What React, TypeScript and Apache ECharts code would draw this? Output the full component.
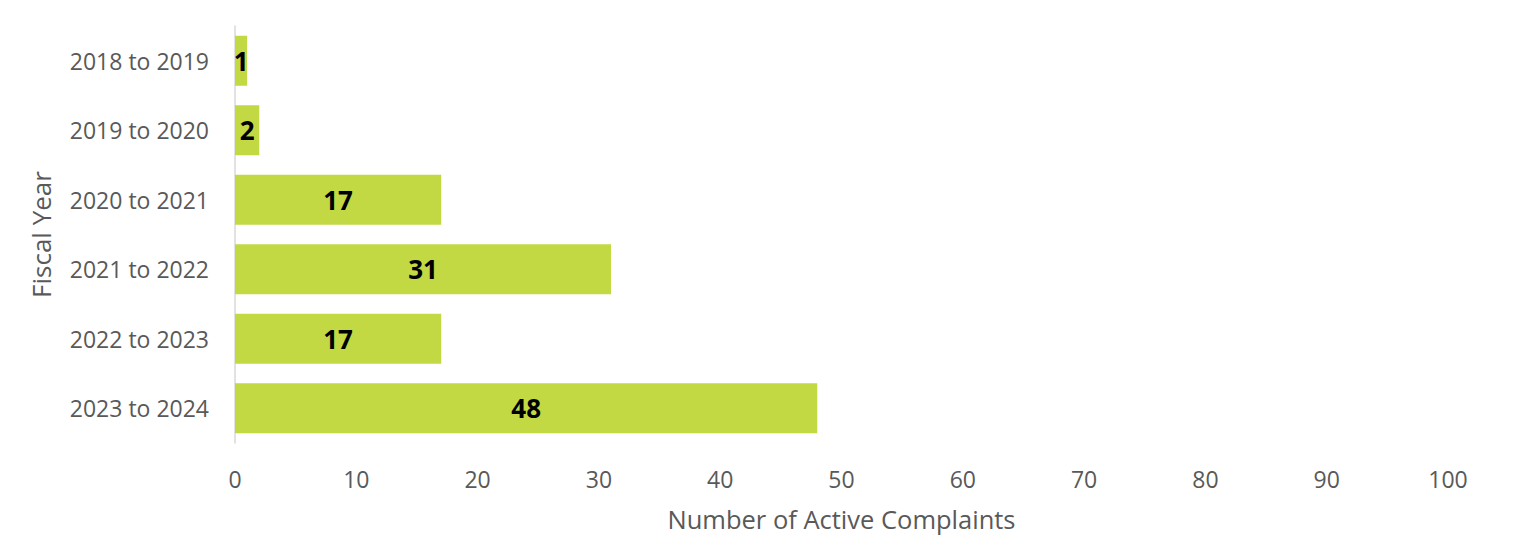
import React, { useEffect, useRef } from "react";
import * as echarts from "echarts";

const categories = ["2018 to 2019", "2019 to 2020", "2020 to 2021", "2021 to 2022", "2022 to 2023", "2023 to 2024"];
const values = [1, 2, 17, 31, 17, 48];
const xTicks = { min: 0, max: 100, interval: 10 };

export default function App() {
  const ref = useRef<HTMLDivElement>(null);
  useEffect(() => {
    if (!ref.current) return;
    const chart = echarts.init(ref.current, undefined, { renderer: "svg" });
    const font = "'Open Sans', sans-serif";
    chart.setOption({
      animation: false,
      grid: { left: 227, right: 77, top: 18, bottom: 104, containLabel: false },
      xAxis: {
        type: "value",
        min: xTicks.min,
        max: xTicks.max,
        interval: xTicks.interval,
        name: "Number of Active Complaints",
        nameLocation: "middle",
        nameGap: 63,
        nameTextStyle: { color: "#595959", fontSize: 25.5, fontFamily: font },
        axisLine: { show: false },
        axisTick: { show: false },
        splitLine: { show: false },
        axisLabel: { color: "#595959", fontSize: 23, fontFamily: font, margin: 24 },
      },
      yAxis: {
        type: "category",
        data: categories,
        inverse: true,
        name: "Fiscal Year",
        nameLocation: "middle",
        nameGap: 181,
        nameRotate: 90,
        nameTextStyle: { color: "#595959", fontSize: 26, fontFamily: font },
        axisLine: { show: true, lineStyle: { color: "#d9d9d9", width: 1.5 } },
        axisTick: { show: false },
        axisLabel: { color: "#595959", fontSize: 23, fontFamily: font, margin: 26 },
      },
      series: [
        {
          type: "bar",
          data: values,
          barWidth: 50,
          itemStyle: { color: "#c3d943" },
          label: {
            show: true,
            position: "inside",
            color: "#000",
            fontWeight: "bold",
            fontSize: 26,
            fontFamily: font,
          },
        },
      ],
    });
    return () => chart.dispose();
  }, []);
  return <div ref={ref} style={{ width: 1517, height: 539 }} />;
}
